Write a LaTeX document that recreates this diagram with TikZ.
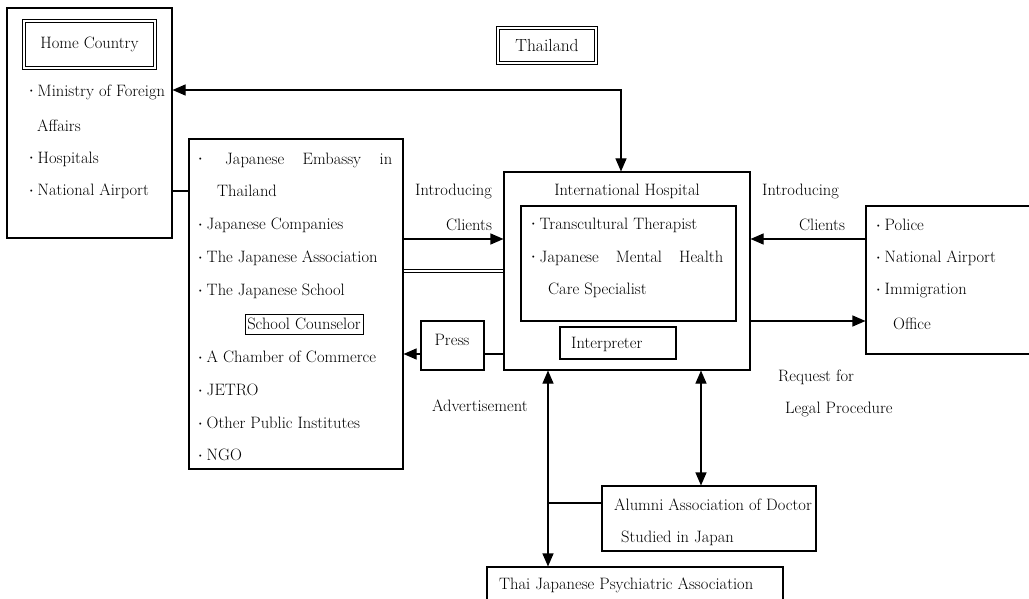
\documentclass[tikz,border=0pt]{standalone}
\usepackage{graphicx}
\usetikzlibrary{arrows.meta,positioning}
\newcommand{\fs}{\fontsize{16.5}{19}\selectfont}
\newcommand{\bul}{\raisebox{0.3ex}{\scalebox{0.55}{\textbullet}}\hspace{3pt}}
\tikzset{
  box/.style={draw, line width=1.1pt, inner sep=0pt},
  dbox/.style={draw, double, double distance=1.8pt, line width=1pt, inner sep=0pt},
  lbl/.style={anchor=west, inner sep=0pt, font=\fs},
  ctr/.style={inner sep=0pt, font=\fs},
  conn/.style={line width=1.1pt},
  arr/.style={conn, -{Triangle[length=13pt,width=11pt]}},
  darr/.style={conn, {Triangle[length=13pt,width=11pt]}-{Triangle[length=13pt,width=11pt]}},
}

\begin{document}
\begin{tikzpicture}[x=1pt,y=-1pt]
\useasboundingbox (0,0) rectangle (1029,599);
% Home country
\node[box, minimum width=165, minimum height=230] (home) at (89.5,123) {};
\node[dbox, minimum width=131, minimum height=47] (homettl) at (89.5,44.5) {};
\node[ctr] at (homettl) {Home Country};
\node[lbl] at (28,92) {\bul Ministry of Foreign};
\node[lbl] at (37,126) {Affairs};
\node[lbl] at (28,159) {\bul Hospitals};
\node[lbl] at (28,191) {\bul National Airport};
% Thailand title
\node[dbox, minimum width=98, minimum height=35] (thai) at (547,45.5) {};
\node[ctr, font=\fontsize{17.5}{20}\selectfont] at (thai) {Thailand};
% Japanese organisations
\node[box, minimum width=214, minimum height=330] (japan) at (296,304) {};
\node[lbl] at (197,160) {\hbox to 195pt{\bul\hfill Japanese\hfill Embassy\hfill in}};
\node[lbl] at (217,191) {Thailand};
\node[lbl] at (197,225) {\bul Japanese Companies};
\node[lbl] at (197,258) {\bul The Japanese Association};
\node[lbl] at (197,291) {\bul The Japanese School};
\node[draw, line width=0.7pt, minimum width=118, minimum height=20, inner sep=0pt, font=\fs] (counsel) at (304,324) {School Counselor};
\node[lbl] at (197,357) {\bul A Chamber of Commerce};
\node[lbl] at (197,390) {\bul JETRO};
\node[lbl] at (197,423) {\bul Other Public Institutes};
\node[lbl] at (197,455) {\bul NGO};
% International hospital
\node[box, minimum width=246, minimum height=198] (hosp) at (627,271) {};
\node[ctr] at (627,191) {International Hospital};
\node[box, minimum width=215, minimum height=115] (staff) at (628.5,263.5) {};
\node[lbl] at (530,225) {\bul Transcultural Therapist};
\node[lbl] at (530,258) {\hbox to 193pt{\bul Japanese\hfill Mental\hfill Health}};
\node[lbl] at (548,290) {Care Specialist};
\node[box, minimum width=116, minimum height=32] (interp) at (618,343) {};
\node[lbl] at (571,344) {Interpreter};
% Press
\node[box, minimum width=63, minimum height=49] (press) at (452.5,345.5) {};
\node[ctr] at (452,340) {Press};
% Police etc.
\node[box, minimum width=174, minimum height=148] (police) at (953,280) {};
\node[lbl] at (875,225) {\bul Police};
\node[lbl] at (875,258) {\bul National Airport};
\node[lbl] at (875,291) {\bul Immigration};
\node[lbl] at (893,324) {Office};
% Alumni
\node[box, minimum width=214, minimum height=65] (alumni) at (709,518.5) {};
\node[lbl] at (614,505) {Alumni Association of Doctor};
\node[lbl] at (621,538) {Studied in Japan};
% Psychiatric association
\node[box, minimum width=296, minimum height=43] (tjpa) at (635,588.5) {};
\node[lbl] at (499,585) {Thai Japanese Psychiatric Association};
% Connector labels
\node[lbl] at (415,191) {Introducing};
\node[lbl] at (446,225) {Clients};
\node[lbl] at (762,191) {Introducing};
\node[lbl] at (799,225) {Clients};
\node[lbl] at (432,406) {Advertisement};
\node[lbl] at (778,377) {Request for};
\node[lbl] at (785,409) {Legal Procedure};
% Connectors
\draw[darr] (home.east |- 0,90) -- (621,90) -- (hosp.north -| 621,0);
\draw[conn] (home.east |- 0,191) -- (japan.west |- 0,191);
\draw[arr] (japan.east |- 0,239) -- (hosp.west |- 0,239);
\draw[double, double distance=1.6pt, line width=0.8pt] (japan.east |- 0,271) -- (hosp.west |- 0,271);
\draw[conn] (hosp.west |- 0,354) -- (press.east |- 0,354);
\draw[arr] (press.west |- 0,354) -- (japan.east |- 0,354);
\draw[arr] (police.west |- 0,239) -- (hosp.east |- 0,239);
\draw[arr] (hosp.east |- 0,321) -- (police.west |- 0,321);
\draw[darr] (hosp.south -| 548,0) -- (tjpa.north -| 548,0);
\draw[darr] (hosp.south -| 701,0) -- (alumni.north -| 701,0);
\draw[conn] (alumni.west |- 0,503) -- (548,503);
\end{tikzpicture}
\end{document}
